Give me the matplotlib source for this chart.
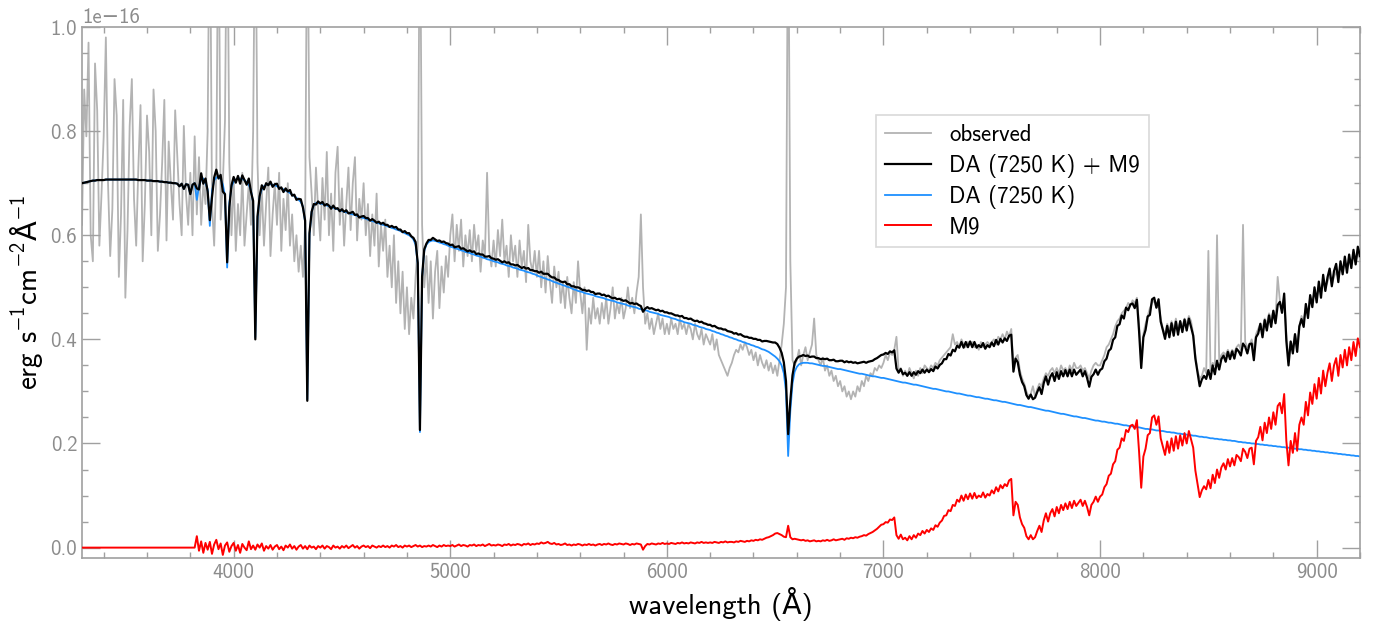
import numpy as np
import matplotlib
matplotlib.use("Agg")
import matplotlib.pyplot as plt
from matplotlib.ticker import MultipleLocator

plt.rcParams['font.family'] = ['cmss10', 'DejaVu Sans']
plt.rcParams['mathtext.fontset'] = 'custom'
plt.rcParams['mathtext.rm'] = 'cmss10'
plt.rcParams['mathtext.sf'] = 'cmss10'
plt.rcParams['mathtext.tt'] = 'DejaVu Sans'   # only used for the Angstrom sign
plt.rcParams['mathtext.fallback'] = 'stixsans'
plt.rcParams['mathtext.default'] = 'regular'

SCALE = 1e-16

# wavelength grid (Angstrom), 10 A sampling
wave = np.arange(3300, 9201, 10)

# DA white dwarf model, units of 1e-16 erg/s/cm2/A
da_flux = [
    0.700, 0.701, 0.702, 0.703, 0.704, 0.705, 0.705, 0.706, 0.706, 0.706,
    0.706, 0.707, 0.707, 0.707, 0.707, 0.707, 0.707, 0.707, 0.707, 0.707,
    0.707, 0.707, 0.707, 0.707, 0.707, 0.707, 0.706, 0.706, 0.706, 0.706,
    0.705, 0.705, 0.705, 0.704, 0.704, 0.704, 0.703, 0.703, 0.702, 0.702,
    0.701, 0.701, 0.700, 0.700, 0.699, 0.694, 0.699, 0.689, 0.698, 0.697,
    0.679, 0.697, 0.700, 0.668, 0.694, 0.707, 0.709, 0.700, 0.688, 0.618,
    0.685, 0.705, 0.711, 0.712, 0.708, 0.698, 0.675, 0.538, 0.662, 0.693,
    0.703, 0.707, 0.709, 0.709, 0.708, 0.706, 0.702, 0.697, 0.686, 0.662,
    0.404, 0.630, 0.675, 0.688, 0.694, 0.697, 0.698, 0.698, 0.697, 0.696,
    0.694, 0.692, 0.690, 0.688, 0.686, 0.684, 0.681, 0.678, 0.675, 0.672,
    0.668, 0.664, 0.655, 0.625, 0.285, 0.600, 0.645, 0.658, 0.662, 0.662,
    0.661, 0.660, 0.659, 0.657, 0.656, 0.654, 0.653, 0.651, 0.650, 0.648,
    0.647, 0.645, 0.644, 0.643, 0.641, 0.640, 0.639, 0.637, 0.636, 0.634,
    0.633, 0.632, 0.630, 0.629, 0.627, 0.626, 0.624, 0.623, 0.621, 0.620,
    0.619, 0.617, 0.616, 0.614, 0.613, 0.611, 0.610, 0.608, 0.606, 0.604,
    0.602, 0.600, 0.597, 0.592, 0.582, 0.545, 0.222, 0.520, 0.570, 0.582,
    0.587, 0.589, 0.590, 0.589, 0.588, 0.586, 0.585, 0.583, 0.582, 0.580,
    0.578, 0.577, 0.575, 0.574, 0.573, 0.571, 0.570, 0.568, 0.567, 0.566,
    0.564, 0.563, 0.561, 0.560, 0.559, 0.557, 0.556, 0.554, 0.553, 0.552,
    0.550, 0.549, 0.548, 0.546, 0.545, 0.544, 0.542, 0.541, 0.540, 0.538,
    0.537, 0.536, 0.534, 0.533, 0.532, 0.530, 0.529, 0.528, 0.526, 0.525,
    0.523, 0.521, 0.520, 0.518, 0.517, 0.515, 0.514, 0.512, 0.510, 0.509,
    0.507, 0.506, 0.504, 0.503, 0.501, 0.500, 0.498, 0.496, 0.495, 0.493,
    0.492, 0.491, 0.489, 0.488, 0.487, 0.486, 0.485, 0.483, 0.482, 0.481,
    0.480, 0.479, 0.477, 0.476, 0.475, 0.474, 0.473, 0.471, 0.470, 0.469,
    0.468, 0.467, 0.465, 0.464, 0.463, 0.462, 0.461, 0.459, 0.458, 0.457,
    0.456, 0.455, 0.453, 0.452, 0.451, 0.450, 0.449, 0.447, 0.446, 0.445,
    0.444, 0.443, 0.441, 0.440, 0.439, 0.437, 0.436, 0.435, 0.433, 0.432,
    0.431, 0.430, 0.428, 0.427, 0.426, 0.424, 0.423, 0.422, 0.420, 0.419,
    0.418, 0.416, 0.415, 0.413, 0.412, 0.410, 0.409, 0.407, 0.406, 0.404,
    0.403, 0.401, 0.400, 0.398, 0.397, 0.395, 0.394, 0.392, 0.391, 0.389,
    0.388, 0.386, 0.385, 0.383, 0.381, 0.380, 0.378, 0.376, 0.373, 0.370,
    0.367, 0.363, 0.358, 0.350, 0.335, 0.300, 0.176, 0.262, 0.315, 0.338,
    0.347, 0.352, 0.354, 0.355, 0.355, 0.355, 0.354, 0.354, 0.353, 0.352,
    0.351, 0.350, 0.349, 0.349, 0.348, 0.347, 0.346, 0.345, 0.344, 0.343,
    0.343, 0.342, 0.341, 0.340, 0.339, 0.338, 0.337, 0.336, 0.335, 0.334,
    0.334, 0.333, 0.332, 0.331, 0.330, 0.329, 0.329, 0.328, 0.327, 0.326,
    0.326, 0.325, 0.324, 0.323, 0.322, 0.321, 0.320, 0.319, 0.318, 0.317,
    0.317, 0.316, 0.315, 0.314, 0.313, 0.313, 0.312, 0.311, 0.310, 0.309,
    0.308, 0.307, 0.306, 0.305, 0.305, 0.304, 0.303, 0.302, 0.301, 0.300,
    0.300, 0.299, 0.298, 0.297, 0.296, 0.296, 0.295, 0.294, 0.293, 0.292,
    0.292, 0.291, 0.290, 0.289, 0.289, 0.288, 0.287, 0.286, 0.286, 0.285,
    0.284, 0.283, 0.283, 0.282, 0.281, 0.280, 0.280, 0.279, 0.278, 0.277,
    0.276, 0.275, 0.274, 0.274, 0.273, 0.272, 0.271, 0.270, 0.270, 0.269,
    0.268, 0.267, 0.266, 0.265, 0.264, 0.263, 0.263, 0.262, 0.261, 0.260,
    0.259, 0.258, 0.257, 0.257, 0.256, 0.255, 0.254, 0.253, 0.252, 0.252,
    0.251, 0.250, 0.249, 0.249, 0.248, 0.247, 0.246, 0.245, 0.244, 0.244,
    0.243, 0.242, 0.242, 0.241, 0.240, 0.240, 0.239, 0.238, 0.238, 0.237,
    0.236, 0.235, 0.235, 0.234, 0.233, 0.233, 0.232, 0.231, 0.231, 0.230,
    0.229, 0.228, 0.228, 0.227, 0.227, 0.226, 0.225, 0.225, 0.224, 0.224,
    0.223, 0.222, 0.222, 0.221, 0.221, 0.220, 0.219, 0.219, 0.218, 0.218,
    0.217, 0.216, 0.216, 0.215, 0.215, 0.214, 0.213, 0.213, 0.212, 0.212,
    0.211, 0.210, 0.210, 0.209, 0.209, 0.208, 0.208, 0.207, 0.207, 0.206,
    0.206, 0.205, 0.205, 0.204, 0.203, 0.203, 0.202, 0.202, 0.201, 0.201,
    0.200, 0.200, 0.199, 0.199, 0.198, 0.198, 0.197, 0.197, 0.196, 0.196,
    0.195, 0.195, 0.194, 0.194, 0.193, 0.193, 0.192, 0.192, 0.191, 0.191,
    0.190, 0.190, 0.189, 0.189, 0.188, 0.188, 0.187, 0.187, 0.186, 0.186,
    0.185, 0.185, 0.184, 0.184, 0.183, 0.183, 0.182, 0.182, 0.181, 0.181,
    0.180, 0.180, 0.179, 0.179, 0.178, 0.178, 0.177, 0.177, 0.176, 0.176,
    0.175,
]

# M9 template, same units (zero blueward of 3830 A)
m9_flux = [0.0] * 53 + [
                         0.022, -0.006, 0.012, -0.010, 0.009, -0.004, 0.011,
    -0.012, 0.006, 0.015, -0.003, 0.008, -0.014, 0.004, 0.010, -0.008, 0.003,
    0.009, -0.006, 0.005, -0.010, 0.007, 0.000, -0.005, 0.012, -0.003, 0.004,
    -0.004, 0.006, 0.000, 0.008, -0.006, 0.003, -0.002, 0.005, -0.004, 0.002,
    0.005, -0.003, 0.002, -0.005, 0.004, 0.000, 0.006, -0.002, 0.003, -0.004,
    0.002, 0.005, -0.002, 0.003, -0.003, 0.004, 0.000, 0.002, -0.003, 0.003,
    0.000, 0.004, -0.002, 0.003, 0.001, -0.003, 0.004, 0.000, 0.002, -0.002,
    0.003, 0.000, 0.004, -0.001, 0.002, 0.005, 0.000, 0.003, -0.002, 0.002,
    0.004, 0.001, 0.003, -0.001, 0.004, 0.002, 0.000, 0.003, 0.001, 0.004,
    0.001, 0.003, 0.000, 0.004, 0.002, 0.005, 0.001, 0.003, 0.000, 0.004,
    0.002, 0.004, 0.001, 0.003, 0.005, 0.002, 0.004, 0.001, 0.003, 0.002,
    0.004, 0.002, 0.005, 0.003, 0.001, 0.004, 0.002, 0.005, 0.003, 0.004,
    0.003, 0.005, 0.002, 0.004, 0.006, 0.003, 0.005, 0.004, 0.002, 0.005,
    0.004, 0.006, 0.003, 0.005, 0.004, 0.006, 0.003, 0.005, 0.007, 0.004,
    0.005, 0.004, 0.006, 0.005, 0.003, 0.006, 0.005, 0.007, 0.004, 0.006,
    0.005, 0.007, 0.006, 0.004, 0.007, 0.006, 0.008, 0.005, 0.007, 0.006,
    0.008, 0.007, 0.010, 0.008, 0.009, 0.011, 0.008, 0.007, 0.009, 0.006,
    0.007, 0.005, 0.006, 0.008, 0.005, 0.006, 0.004, 0.006, 0.005, 0.007,
    0.006, 0.004, 0.006, 0.005, 0.007, 0.005, 0.006, 0.004, 0.006, 0.007,
    0.005, 0.007, 0.006, 0.008, 0.006, 0.005, 0.007, 0.006, 0.008, 0.007,
    0.006, 0.008, 0.007, 0.005, 0.007, 0.006, 0.008, 0.007, 0.006, -0.004,
    0.003, 0.007, 0.006, 0.008, 0.007, 0.006, 0.008, 0.007, 0.009, 0.007,
    0.008, 0.007, 0.009, 0.008, 0.007, 0.009, 0.008, 0.010, 0.008, 0.009,
    0.008, 0.010, 0.009, 0.008, 0.010, 0.009, 0.011, 0.009, 0.010, 0.009,
    0.010, 0.009, 0.011, 0.010, 0.009, 0.011, 0.010, 0.012, 0.010, 0.011,
    0.011, 0.010, 0.012, 0.011, 0.013, 0.012, 0.011, 0.013, 0.012, 0.014,
    0.013, 0.015, 0.014, 0.016, 0.015, 0.017, 0.019, 0.020, 0.022, 0.024,
    0.027, 0.028, 0.026, 0.024, 0.021, 0.020, 0.042, 0.020, 0.016, 0.017,
    0.016, 0.015, 0.014, 0.015, 0.013, 0.014, 0.012, 0.013, 0.014, 0.012,
    0.013, 0.012, 0.014, 0.013, 0.015, 0.013, 0.014, 0.016, 0.014, 0.015,
    0.016, 0.017, 0.015, 0.018, 0.017, 0.019, 0.018, 0.020, 0.019, 0.021,
    0.022, 0.024, 0.023, 0.026, 0.028, 0.030, 0.033, 0.036, 0.040, 0.044,
    0.045, 0.049, 0.048, 0.054, 0.053, 0.058, 0.024, 0.017, 0.025, 0.016,
    0.019, 0.014, 0.022, 0.016, 0.024, 0.019, 0.027, 0.024, 0.032, 0.027,
    0.034, 0.030, 0.037, 0.034, 0.043, 0.040, 0.048, 0.052, 0.061, 0.062,
    0.072, 0.070, 0.082, 0.080, 0.092, 0.088, 0.100, 0.090, 0.102, 0.093,
    0.104, 0.094, 0.105, 0.095, 0.100, 0.097, 0.106, 0.096, 0.103, 0.100,
    0.110, 0.104, 0.116, 0.108, 0.120, 0.114, 0.122, 0.118, 0.129, 0.132,
    0.062, 0.088, 0.082, 0.058, 0.045, 0.038, 0.022, 0.016, 0.024, 0.016,
    0.020, 0.032, 0.042, 0.030, 0.052, 0.066, 0.050, 0.066, 0.074, 0.060,
    0.078, 0.066, 0.082, 0.072, 0.085, 0.074, 0.088, 0.076, 0.090, 0.080,
    0.086, 0.092, 0.080, 0.090, 0.078, 0.062, 0.082, 0.088, 0.098, 0.088,
    0.098, 0.102, 0.116, 0.122, 0.138, 0.142, 0.160, 0.166, 0.188, 0.192,
    0.210, 0.205, 0.226, 0.222, 0.234, 0.236, 0.228, 0.245, 0.185, 0.115,
    0.175, 0.190, 0.216, 0.220, 0.250, 0.254, 0.236, 0.252, 0.210, 0.194,
    0.178, 0.204, 0.182, 0.210, 0.186, 0.214, 0.190, 0.216, 0.196, 0.220,
    0.200, 0.224, 0.208, 0.192, 0.148, 0.122, 0.097, 0.110, 0.118, 0.112,
    0.130, 0.114, 0.140, 0.124, 0.150, 0.134, 0.154, 0.162, 0.150, 0.170,
    0.156, 0.172, 0.158, 0.178, 0.174, 0.166, 0.190, 0.184, 0.172, 0.190,
    0.192, 0.160, 0.205, 0.212, 0.232, 0.206, 0.240, 0.220, 0.250, 0.228,
    0.260, 0.236, 0.272, 0.278, 0.258, 0.295, 0.205, 0.158, 0.205, 0.182,
    0.220, 0.186, 0.236, 0.250, 0.236, 0.280, 0.254, 0.298, 0.276, 0.314,
    0.286, 0.326, 0.296, 0.340, 0.310, 0.336, 0.354, 0.320, 0.350, 0.364,
    0.330, 0.370, 0.346, 0.380, 0.350, 0.385, 0.360, 0.395, 0.368, 0.402,
    0.385,
]

# observed spectrum, same units (emission cores run off the top)
obs_flux = [
    0.62, 0.88, 0.79, 0.97, 0.60, 0.55, 0.93, 0.84, 0.58, 0.68,
    0.79, 0.98, 0.70, 0.56, 0.65, 0.90, 0.83, 0.52, 0.64, 0.86,
    0.48, 0.61, 0.81, 0.90, 0.67, 0.58, 0.73, 0.85, 0.55, 0.66,
    0.83, 0.76, 0.60, 0.88, 0.80, 0.57, 0.64, 0.74, 0.86, 0.59,
    0.78, 0.70, 0.63, 0.84, 0.75, 0.66, 0.60, 0.81, 0.68, 0.62,
    0.72, 0.60, 0.79, 0.64, 0.75, 0.62, 0.70, 0.66, 0.80, 1.30,
    0.66, 0.58, 0.72, 1.30, 0.63, 0.70, 0.82, 1.30, 0.74, 0.60,
    0.71, 0.57, 0.66, 0.60, 0.72, 0.58, 0.64, 0.70, 0.62, 0.80,
    1.30, 0.74, 0.60, 0.69, 0.58, 0.66, 0.73, 0.56, 0.64, 0.70,
    0.62, 0.72, 0.57, 0.67, 0.61, 0.70, 0.58, 0.64, 0.55, 0.60,
    0.53, 0.58, 0.52, 0.62, 1.30, 0.75, 0.68, 0.60, 0.73, 0.65,
    0.59, 0.71, 0.63, 0.76, 0.60, 0.68, 0.57, 0.72, 0.77, 0.62,
    0.69, 0.58, 0.66, 0.73, 0.61, 0.70, 0.75, 0.59, 0.67, 0.63,
    0.70, 0.60, 0.66, 0.56, 0.64, 0.58, 0.68, 0.54, 0.62, 0.57,
    0.63, 0.52, 0.58, 0.50, 0.60, 0.47, 0.55, 0.45, 0.53, 0.42,
    0.50, 0.41, 0.48, 0.44, 0.52, 0.58, 1.30, 0.62, 0.50, 0.56,
    0.47, 0.55, 0.44, 0.53, 0.57, 0.46, 0.54, 0.49, 0.56, 0.52,
    0.60, 0.64, 0.55, 0.62, 0.57, 0.63, 0.54, 0.60, 0.56, 0.61,
    0.55, 0.62, 0.57, 0.60, 0.53, 0.59, 0.56, 0.72, 0.57, 0.54,
    0.59, 0.54, 0.61, 0.56, 0.63, 0.55, 0.58, 0.52, 0.60, 0.55,
    0.58, 0.52, 0.59, 0.54, 0.57, 0.51, 0.62, 0.55, 0.53, 0.57,
    0.52, 0.57, 0.50, 0.55, 0.49, 0.56, 0.51, 0.47, 0.54, 0.50,
    0.53, 0.47, 0.51, 0.46, 0.52, 0.48, 0.45, 0.51, 0.47, 0.55,
    0.49, 0.45, 0.50, 0.38, 0.46, 0.43, 0.48, 0.44, 0.46, 0.43,
    0.47, 0.44, 0.48, 0.43, 0.46, 0.50, 0.44, 0.47, 0.45, 0.48,
    0.44, 0.46, 0.50, 0.46, 0.48, 0.45, 0.49, 0.52, 0.64, 0.50,
    0.43, 0.45, 0.42, 0.44, 0.41, 0.43, 0.45, 0.42, 0.44, 0.41,
    0.43, 0.41, 0.44, 0.42, 0.43, 0.41, 0.44, 0.42, 0.43, 0.41,
    0.43, 0.42, 0.40, 0.43, 0.41, 0.40, 0.42, 0.39, 0.41, 0.40,
    0.39, 0.41, 0.38, 0.40, 0.37, 0.36, 0.35, 0.34, 0.33, 0.345,
    0.355, 0.37, 0.38, 0.375, 0.39, 0.38, 0.394, 0.385, 0.37, 0.38,
    0.36, 0.375, 0.35, 0.37, 0.355, 0.345, 0.36, 0.34, 0.355, 0.335,
    0.35, 0.33, 0.36, 0.39, 0.43, 0.50, 1.30, 0.55, 0.36, 0.35,
    0.36, 0.38, 0.35, 0.37, 0.385, 0.36, 0.375, 0.39, 0.44, 0.37,
    0.36, 0.35, 0.365, 0.34, 0.35, 0.33, 0.34, 0.32, 0.33, 0.31,
    0.32, 0.30, 0.31, 0.29, 0.30, 0.285, 0.30, 0.29, 0.31, 0.30,
    0.32, 0.31, 0.33, 0.32, 0.335, 0.33, 0.345, 0.34, 0.35, 0.345,
    0.355, 0.37, 0.36, 0.375, 0.37, 0.38, 0.405, 0.34, 0.345, 0.33,
    0.34, 0.33, 0.345, 0.335, 0.325, 0.34, 0.33, 0.345, 0.335, 0.35,
    0.345, 0.34, 0.35, 0.345, 0.355, 0.35, 0.36, 0.365, 0.37, 0.375,
    0.38, 0.385, 0.41, 0.39, 0.395, 0.385, 0.40, 0.39, 0.385, 0.395,
    0.39, 0.395, 0.385, 0.39, 0.38, 0.395, 0.385, 0.39, 0.395, 0.39,
    0.395, 0.40, 0.39, 0.405, 0.40, 0.41, 0.40, 0.415, 0.405, 0.42,
    0.35, 0.365, 0.37, 0.34, 0.325, 0.315, 0.30, 0.29, 0.295, 0.31,
    0.29, 0.305, 0.315, 0.31, 0.325, 0.335, 0.33, 0.34, 0.345, 0.335,
    0.345, 0.335, 0.35, 0.34, 0.345, 0.335, 0.35, 0.34, 0.355, 0.345,
    0.345, 0.35, 0.34, 0.345, 0.335, 0.325, 0.34, 0.35, 0.355, 0.35,
    0.35, 0.36, 0.37, 0.385, 0.39, 0.40, 0.41, 0.425, 0.435, 0.44,
    0.45, 0.455, 0.46, 0.47, 0.465, 0.475, 0.47, 0.48, 0.43, 0.36,
    0.41, 0.43, 0.445, 0.46, 0.47, 0.475, 0.46, 0.465, 0.44, 0.42,
    0.41, 0.43, 0.415, 0.435, 0.42, 0.44, 0.42, 0.435, 0.425, 0.44,
    0.43, 0.445, 0.435, 0.41, 0.37, 0.34, 0.325, 0.33, 0.345, 0.335,
    0.57, 0.34, 0.355, 0.35, 0.60, 0.36, 0.37, 0.375, 0.37, 0.38,
    0.37, 0.38, 0.375, 0.385, 0.39, 0.38, 0.62, 0.395, 0.385, 0.39,
    0.40, 0.38, 0.41, 0.42, 0.43, 0.42, 0.44, 0.43, 0.45, 0.44,
    0.455, 0.44, 0.52, 0.475, 0.46, 0.48, 0.41, 0.36, 0.395, 0.385,
    0.41, 0.39, 0.425, 0.445, 0.435, 0.46, 0.455, 0.48, 0.47, 0.49,
    0.48, 0.50, 0.49, 0.51, 0.50, 0.51, 0.525, 0.505, 0.52, 0.53,
    0.52, 0.54, 0.53, 0.55, 0.535, 0.55, 0.545, 0.56, 0.55, 0.565,
    0.555,
]

da = np.array(da_flux) * SCALE
m9 = np.array(m9_flux) * SCALE
obs = np.array(obs_flux) * SCALE
combined = da + m9

TICK_GREY = '#8c8c8c'
SPINE_GREY = '#a0a0a0'

fig, ax = plt.subplots(figsize=(13.74, 6.21), dpi=100)
fig.subplots_adjust(left=0.0597, right=0.9898, top=0.9565, bottom=0.1014)

l_obs, = ax.plot(wave, obs, color='#b3b3b3', lw=1.3, zorder=1, label='observed')
l_da, = ax.plot(wave, da, color='#1e90ff', lw=1.3, zorder=2, label='DA (7250 K)')
l_tot, = ax.plot(wave, combined, color='black', lw=1.6, zorder=3, label='DA (7250 K) + M9')
l_m9, = ax.plot(wave, m9, color='red', lw=1.4, zorder=4, label='M9')

ax.set_xlim(3300, 9200)
ax.set_ylim(-0.02e-16, 1.0e-16)
ax.xaxis.set_major_locator(MultipleLocator(1000))
ax.xaxis.set_minor_locator(MultipleLocator(200))
ax.yaxis.set_major_locator(MultipleLocator(0.2e-16))
ax.yaxis.set_minor_locator(MultipleLocator(0.05e-16))

ax.tick_params(which='both', direction='in', top=True, right=True,
               colors=SPINE_GREY, labelcolor=TICK_GREY, labelsize=15)
ax.tick_params(which='major', length=13, width=1.0)
ax.tick_params(which='minor', length=4.5, width=1.0)
for sp in ax.spines.values():
    sp.set_color(SPINE_GREY)
    sp.set_linewidth(1.2)
ax.yaxis.get_offset_text().set_color(TICK_GREY)
ax.yaxis.get_offset_text().set_fontsize(15)

ax.set_xlabel('wavelength (Å)', fontsize=20.5)
ax.set_ylabel(r'erg s$^{-1}$cm$^{-2}\mathtt{Å}^{-1}$', fontsize=21)

leg = ax.legend(handles=[l_obs, l_tot, l_da, l_m9], loc='upper left',
                bbox_to_anchor=(0.621, 0.834), borderaxespad=0,
                fontsize=16.5, fancybox=False, framealpha=1.0,
                edgecolor='#d9d9d9', labelspacing=0.32)
leg.get_frame().set_linewidth(1.2)

fig.savefig('out.png', dpi=100)
